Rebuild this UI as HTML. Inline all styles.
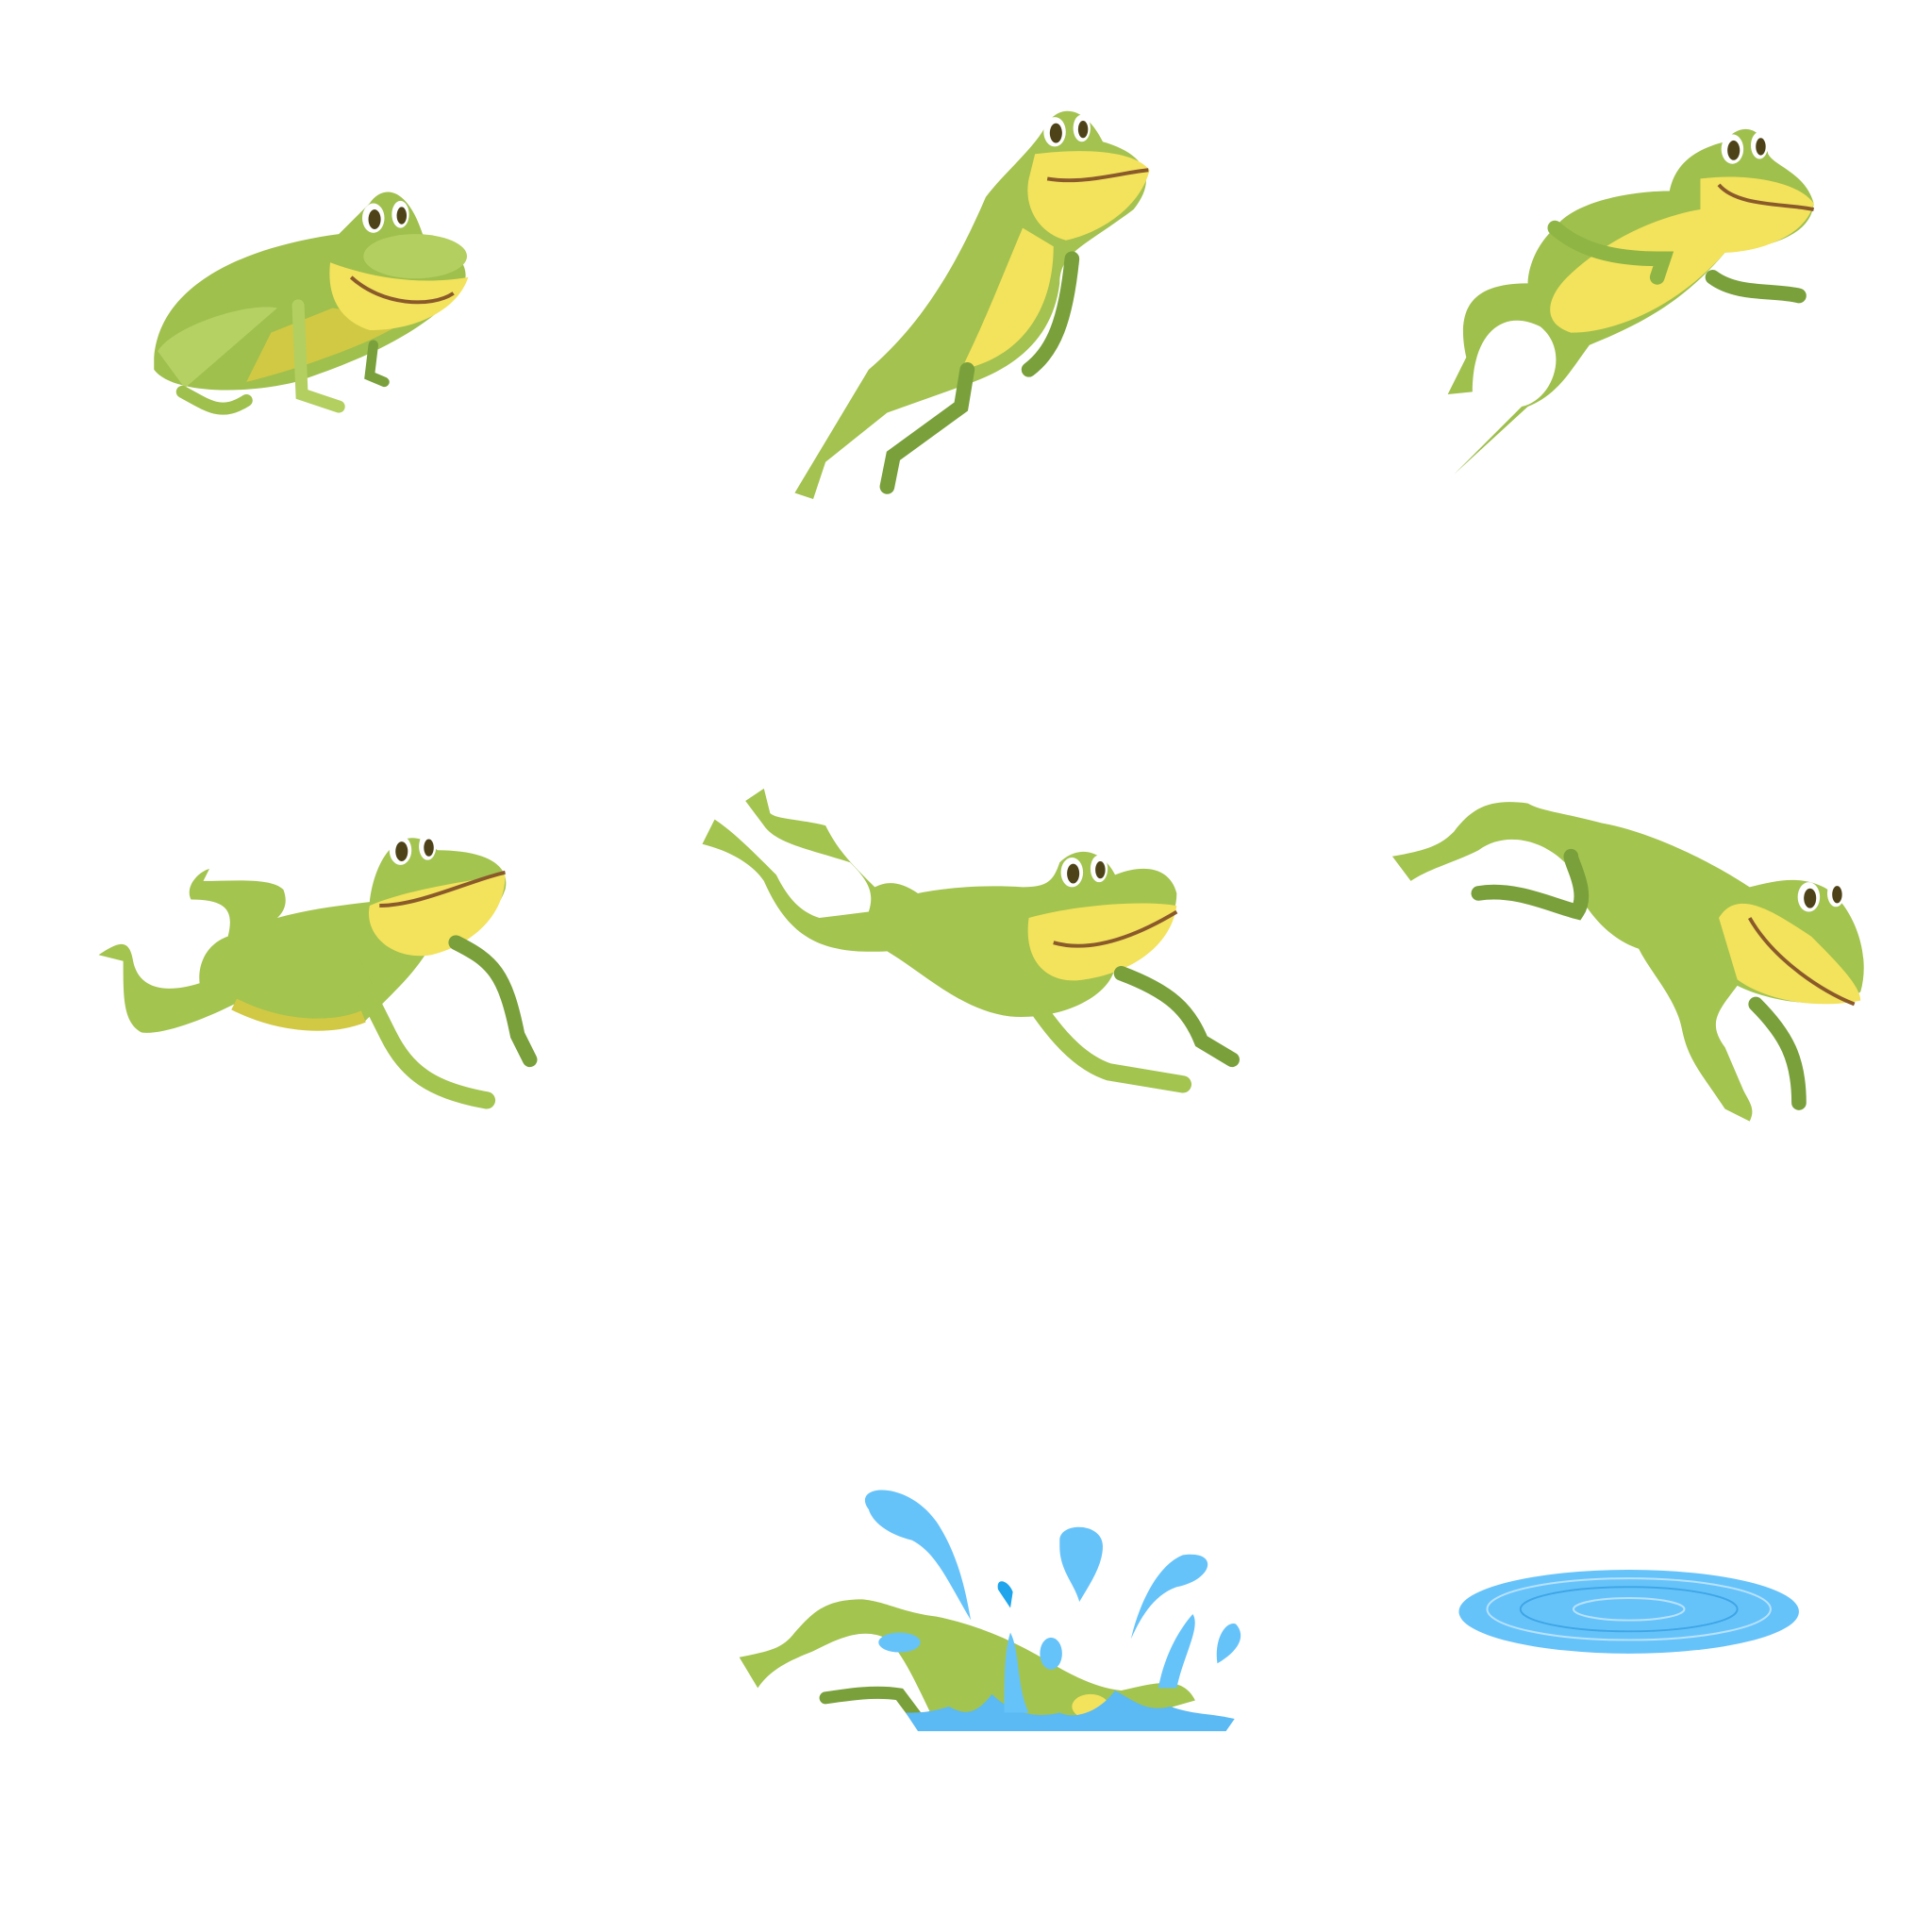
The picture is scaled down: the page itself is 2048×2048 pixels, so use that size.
<!DOCTYPE html>
<html><head><meta charset="utf-8"><style>
html,body{margin:0;padding:0;background:#fff;}
svg{display:block}
</style></head><body>
<svg width="2048" height="2048" viewBox="0 0 1568 1568" xmlns="http://www.w3.org/2000/svg">
<defs>
<g id="eyes">
 <ellipse cx="0" cy="0" rx="9" ry="12" fill="#fff"/><ellipse cx="1" cy="1" rx="5" ry="8" fill="#4e4318"/>
 <ellipse cx="22" cy="-3" rx="7" ry="11" fill="#fff"/><ellipse cx="23" cy="-2" rx="4" ry="7" fill="#4e4318"/>
</g>
</defs>

<!-- Frame 1: sitting -->
<g>
 <path d="M125,290 C130,230 200,200 275,190 L300,165 C310,150 330,150 343,190 C380,205 385,225 370,240 C340,270 300,290 240,310 C200,320 140,320 125,300 Z" fill="#9fc04d"/>
 <path d="M200,310 C240,300 300,280 330,260 L270,250 L220,270 Z" fill="#d1c944"/>
 <path d="M268,213 C300,225 340,232 380,225 C372,250 340,268 300,268 C275,260 265,240 268,213 Z" fill="#f3e25c"/>
 <ellipse cx="337" cy="208" rx="42" ry="18" fill="#b3cf60"/>
 <path d="M285,225 C310,248 350,250 368,238" stroke="#8a5a2a" stroke-width="3" fill="none"/>
 <path d="M150,315 L225,250 C200,245 140,265 128,285 Z" fill="#b5d164"/>
 <path d="M148,318 C170,330 180,338 200,325" stroke="#9fc04d" stroke-width="10" fill="none" stroke-linecap="round"/>
 <path d="M242,248 L245,320 L275,330" stroke="#b3cf60" stroke-width="10" fill="none" stroke-linecap="round"/>
 <path d="M303,280 L300,305 L312,310" stroke="#7aa03c" stroke-width="8" fill="none" stroke-linecap="round"/>
 <use href="#eyes" x="303" y="177"/>
</g>

<!-- Frame 2: take off -->
<g>
 <path d="M645,400 L705,300 C740,270 770,230 800,160 C815,140 840,120 850,100 C860,85 880,85 895,115 C930,125 940,145 920,170 C880,200 860,205 860,230 C855,270 830,295 790,310 L720,335 L670,375 L660,405 Z" fill="#a3c24f"/>
 <path d="M840,125 C880,120 920,122 933,138 C925,170 890,190 865,195 C845,190 830,170 835,145 Z" fill="#f3e25c"/>
 <path d="M780,300 C800,260 815,220 830,185 L855,200 C855,250 830,290 780,300 Z" fill="#f3e25c"/>
 <path d="M850,145 C880,150 910,140 932,138" stroke="#8a5a2a" stroke-width="3" fill="none"/>
 <path d="M720,395 L725,370 L780,330 L785,300" stroke="#7aa03c" stroke-width="12" fill="none" stroke-linecap="round"/>
 <path d="M835,300 C855,285 865,260 870,210" stroke="#7aa03c" stroke-width="12" fill="none" stroke-linecap="round"/>
 <use href="#eyes" x="856" y="107"/>
</g>

<!-- Frame 3: rising -->
<g>
 <path d="M1180,385 L1240,330 C1265,320 1275,300 1290,280 C1340,260 1370,240 1400,205 C1440,200 1470,190 1472,165 C1465,140 1440,135 1435,125 C1430,100 1410,100 1400,115 C1380,120 1360,130 1355,155 C1320,155 1275,165 1262,185 C1245,200 1240,220 1240,230 C1200,230 1180,245 1190,290 L1175,320 L1195,318 C1195,270 1220,250 1250,265 C1275,285 1260,325 1235,330 Z" fill="#9fc04d"/>
 <path d="M1380,145 C1420,140 1460,148 1472,165 C1465,195 1420,205 1400,205 C1360,250 1310,270 1275,270 C1250,262 1255,240 1275,222 C1310,190 1350,175 1380,170 Z" fill="#f3e25c"/>
 <path d="M1395,150 C1410,168 1450,165 1472,170" stroke="#8a5a2a" stroke-width="3" fill="none"/>
 <path d="M1262,185 C1290,210 1330,210 1350,210 L1345,225" stroke="#8fb545" stroke-width="12" fill="none" stroke-linecap="round"/>
 <path d="M1390,225 C1410,240 1440,235 1460,240" stroke="#7aa03c" stroke-width="12" fill="none" stroke-linecap="round"/>
 <use href="#eyes" x="1406" y="121"/>
</g>

<!-- Frame 4 -->
<g>
 <path d="M80,775 C95,765 105,760 108,780 C112,800 130,808 162,798 C160,780 170,765 185,760 C190,740 185,730 155,730 C150,720 160,708 170,705 L165,715 C190,715 220,712 230,722 C235,735 228,742 225,745 C250,738 275,735 300,732 C305,690 330,665 355,690 C390,690 415,700 410,722 C400,750 370,770 345,775 C335,790 325,800 310,815 L295,830 C260,835 220,825 190,815 C160,830 130,840 115,838 C100,830 100,810 100,780 Z" fill="#a3c44f"/>
 <path d="M300,735 C330,722 380,715 410,710 C410,745 380,768 350,775 C320,780 295,760 300,735 Z" fill="#f3e25c"/>
 <path d="M308,735 C340,735 380,715 410,708" stroke="#8a5a2a" stroke-width="3" fill="none"/>
 <path d="M190,815 C230,835 270,835 295,825" stroke="#d1c944" stroke-width="10" fill="none"/>
 <path d="M285,780 L315,840 C330,870 350,885 395,893" stroke="#a3c44f" stroke-width="14" fill="none" stroke-linecap="round"/>
 <path d="M370,765 C400,780 410,790 420,840 L430,860" stroke="#7aa03c" stroke-width="12" fill="none" stroke-linecap="round"/>
 <use href="#eyes" x="325" y="690"/>
</g>

<!-- Frame 5 -->
<g>
 <path d="M570,685 C590,690 610,700 620,715 C640,760 665,775 720,772 C750,790 780,820 820,825 C860,828 900,810 905,785 C935,772 955,750 955,725 C950,705 930,700 905,710 C895,690 875,685 860,700 C855,715 850,720 830,720 C800,718 770,720 745,725 C730,715 720,715 710,720 C690,700 680,690 670,670 C650,665 630,665 625,660 L620,640 L605,650 L620,670 C630,685 660,690 690,700 C705,715 710,725 705,740 L665,745 C650,740 640,730 630,710 C610,690 595,675 580,665 Z" fill="#a3c44f"/>
 <path d="M835,745 C870,735 925,730 955,735 C950,770 915,790 880,795 C850,800 830,780 835,745 Z" fill="#f3e25c"/>
 <path d="M855,765 C890,775 930,755 955,740" stroke="#8a5a2a" stroke-width="3" fill="none"/>
 <path d="M830,800 C850,830 870,860 900,870 L960,880" stroke="#a3c44f" stroke-width="14" fill="none" stroke-linecap="round"/>
 <path d="M910,790 C950,805 965,820 975,845 L1000,860" stroke="#7aa03c" stroke-width="12" fill="none" stroke-linecap="round"/>
 <use href="#eyes" x="870" y="708"/>
</g>

<!-- Frame 6 -->
<g>
 <path d="M1130,695 C1160,690 1170,685 1180,675 C1195,655 1210,648 1240,652 C1250,658 1270,660 1300,668 C1340,675 1390,700 1420,720 C1440,715 1460,710 1480,720 C1500,730 1520,770 1510,805 C1490,820 1440,815 1410,800 C1395,820 1385,830 1400,850 L1415,885 C1420,895 1425,900 1420,910 L1400,900 C1380,870 1370,860 1365,835 C1360,810 1340,790 1330,770 C1300,760 1280,730 1270,700 C1250,680 1220,675 1200,690 C1180,700 1160,705 1145,715 Z" fill="#a3c44f"/>
 <path d="M1395,745 C1410,720 1440,740 1470,760 C1490,780 1510,800 1510,812 C1470,820 1430,810 1410,795 Z" fill="#f3e25c"/>
 <path d="M1420,745 C1440,780 1480,805 1505,815" stroke="#8a5a2a" stroke-width="3" fill="none"/>
 <path d="M1200,725 C1230,720 1260,735 1280,740 C1290,725 1275,700 1275,695" stroke="#7aa03c" stroke-width="12" fill="none" stroke-linecap="round"/>
 <path d="M1425,815 C1450,840 1460,860 1460,895" stroke="#7aa03c" stroke-width="12" fill="none" stroke-linecap="round"/>
 <use href="#eyes" x="1468" y="728"/>
</g>

<!-- Frame 7: splash -->
<g>
 <path d="M600,1345 C625,1340 635,1338 645,1325 C660,1308 670,1298 700,1298 C720,1300 730,1308 760,1312 C790,1318 820,1330 850,1348 C870,1360 890,1370 910,1372 C940,1365 960,1360 970,1380 L900,1400 L760,1400 C745,1370 735,1345 720,1330 C700,1320 680,1330 660,1340 C640,1348 625,1355 615,1370 Z" fill="#a3c44f"/>
 <path d="M670,1378 C690,1375 710,1372 730,1375 L745,1395" stroke="#7aa03c" stroke-width="10" fill="none" stroke-linecap="round"/>
 <ellipse cx="885" cy="1385" rx="15" ry="10" fill="#f3e25c"/>
 <path d="M735,1390 L745,1405 L995,1405 L1002,1395 C980,1390 970,1392 950,1385 C930,1390 920,1380 905,1372 C890,1392 870,1395 860,1390 C840,1395 820,1390 805,1375 C790,1395 780,1390 770,1385 C755,1390 745,1390 735,1390 Z" fill="#5bb9f3"/>
 <path d="M705,1225 C690,1205 735,1200 760,1235 C780,1265 785,1300 788,1315 C770,1285 760,1260 740,1250 C720,1245 708,1235 705,1225 Z" fill="#66c3fa"/>
 <path d="M860,1250 C860,1235 895,1235 895,1255 C895,1270 885,1285 876,1300 C872,1285 860,1275 860,1255 Z" fill="#66c3fa"/>
 <path d="M918,1330 C925,1300 940,1270 960,1262 C990,1258 985,1282 955,1288 C935,1295 925,1315 918,1330 Z" fill="#66c3fa"/>
 <path d="M988,1350 C985,1330 995,1315 1003,1318 C1012,1328 1005,1340 988,1350 Z" fill="#66c3fa"/>
 <path d="M810,1290 C808,1280 818,1282 822,1292 L820,1305 Z" fill="#1ea5ec"/>
 <path d="M940,1370 C945,1345 955,1325 968,1310 C975,1320 960,1345 955,1370 Z" fill="#66c3fa"/>
 <path d="M815,1390 C815,1365 815,1340 820,1325 C828,1340 825,1370 835,1390 Z" fill="#66c3fa"/>
 <ellipse cx="730" cy="1333" rx="17" ry="8" fill="#66c3fa"/>
 <ellipse cx="853" cy="1342" rx="9" ry="13" fill="#66c3fa"/>
</g>

<!-- Frame 8: puddle -->
<g>
 <ellipse cx="1322" cy="1308" rx="138" ry="34" fill="#66c3fa"/>
 <ellipse cx="1322" cy="1306" rx="115" ry="25" fill="none" stroke="#b8e2fd" stroke-width="1.5"/>
 <ellipse cx="1322" cy="1306" rx="88" ry="18" fill="none" stroke="#3fa6e6" stroke-width="1.5"/>
 <ellipse cx="1322" cy="1306" rx="45" ry="9" fill="none" stroke="#b8e2fd" stroke-width="1.5"/>
</g>
</svg>
</body></html>
